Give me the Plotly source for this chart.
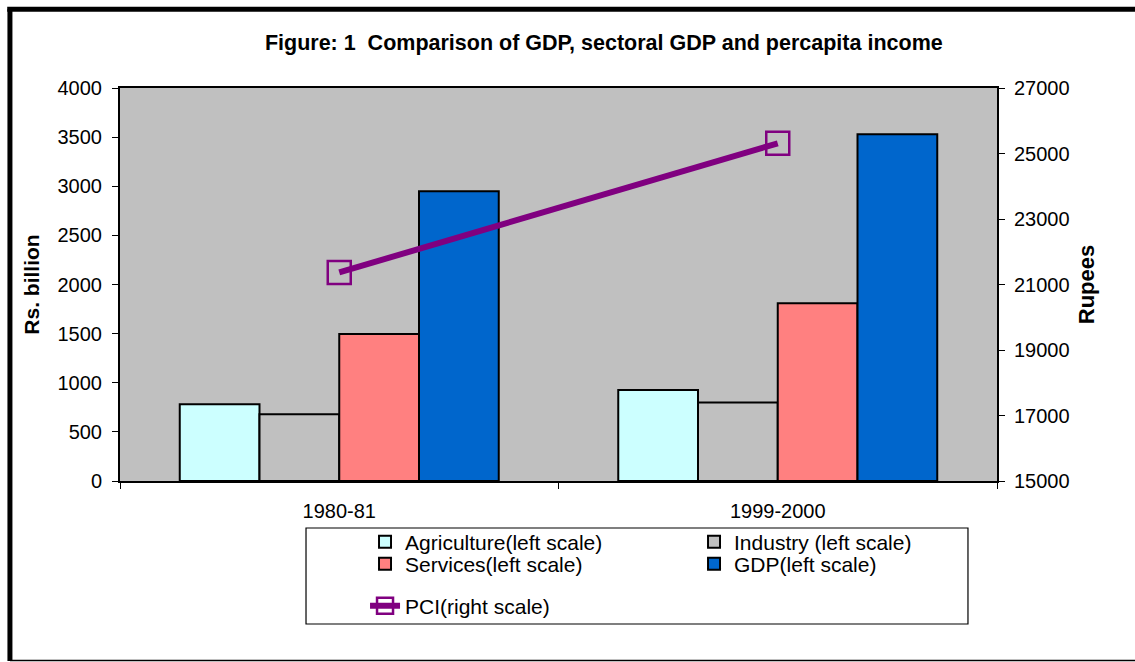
import plotly.graph_objects as go

# Data
years = ["1980-81", "1999-2000"]
agriculture = [780, 925]
industry = [680, 800]
services = [1495, 1810]
gdp = [2950, 3530]
pci = [21370, 25310]

left_ticks = [0, 500, 1000, 1500, 2000, 2500, 3000, 3500, 4000]
right_ticks = [15000, 17000, 19000, 21000, 23000, 25000, 27000]

FONT = "Liberation Sans, Arial, sans-serif"

fig = go.Figure()

bar_series = [
    ("Agriculture(left scale)", agriculture, "#CCFFFF", "legend"),
    ("Industry (left scale)", industry, "#C0C0C0", "legend"),
    ("Services(left scale)", services, "#FF8080", "legend2"),
    ("GDP(left scale)", gdp, "#0066CC", "legend2"),
]
for name, vals, color, lg in bar_series:
    fig.add_trace(go.Bar(
        x=years, y=vals, name=name, legend=lg,
        marker=dict(color=color, line=dict(color="black", width=2)),
    ))

fig.add_trace(go.Scatter(
    x=years, y=pci, yaxis="y2", name="PCI(right scale)", legend="legend3",
    mode="lines+markers",
    line=dict(color="#800080", width=6),
    marker=dict(symbol="square-open", size=23, color="#800080",
                line=dict(width=2.5, color="#800080")),
))

axis_common = dict(
    showgrid=False, zeroline=False, showline=True, linecolor="black",
    linewidth=2, ticks="outside", ticklen=6, tickcolor="black",
    tickfont=dict(size=20, color="black"), automargin=False,
)

legend_common = dict(
    orientation="h", xanchor="left", yanchor="middle",
    bgcolor="rgba(0,0,0,0)", borderwidth=0, entrywidth=284,
    font=dict(size=21, color="black"),
)

fig.update_layout(
    width=1135, height=662,
    margin=dict(l=120, r=138, t=88, b=181),
    paper_bgcolor="white", plot_bgcolor="#C0C0C0",
    barmode="group", bargap=0.2725, bargroupgap=0,
    font=dict(family=FONT, size=20, color="black"),
    title=dict(
        text="<b>Figure: 1\u00a0 Comparison of GDP, sectoral GDP and percapita income</b>",
        x=0.532, xanchor="center", y=1 - 42 / 662, yanchor="middle",
        font=dict(size=21.5, color="black"),
    ),
    xaxis=dict(type="category", mirror=True, tickson="boundaries",
               ticklabelstandoff=11, **axis_common),
    yaxis=dict(range=[0, 4000], tickvals=left_ticks, tickformat="d",
               mirror=True, ticklabelstandoff=6,
               title=dict(text="<b>Rs. billion</b>", standoff=12,
                          font=dict(size=21, color="black")),
               **axis_common),
    yaxis2=dict(range=[15000, 27000], tickvals=right_ticks, tickformat="d",
                overlaying="y", side="right", ticklabelstandoff=5,
                title=dict(text="<b>Rupees</b>", standoff=10,
                           font=dict(size=22, color="black")),
                **axis_common),
    legend=dict(x=0.2794, y=-0.1552, **legend_common),
    legend2=dict(x=0.2794, y=-0.2112, **legend_common),
    legend3=dict(x=0.2794, y=-0.3181, **legend_common),
    showlegend=True,
)

# Outer frame and legend box
frame = dict(type="line", xref="paper", yref="paper", layer="above")
fig.add_shape(x0=-0.1255, x1=-0.1255, y0=1.2005, y1=-0.458,
              line=dict(color="black", width=5), **frame)
fig.add_shape(x0=-0.1286, x1=1.17, y0=1.2005, y1=1.2005,
              line=dict(color="black", width=5), **frame)
fig.add_shape(x0=-0.1255, x1=1.17, y0=-0.4567, y1=-0.4567,
              line=dict(color="black", width=1.5), **frame)
fig.add_shape(type="rect", xref="paper", yref="paper",
              x0=0.2121, x1=0.9669, y0=-0.1196, y1=-0.3639,
              line=dict(color="black", width=1.2), fillcolor="rgba(0,0,0,0)")

fig.write_html("out.html")
